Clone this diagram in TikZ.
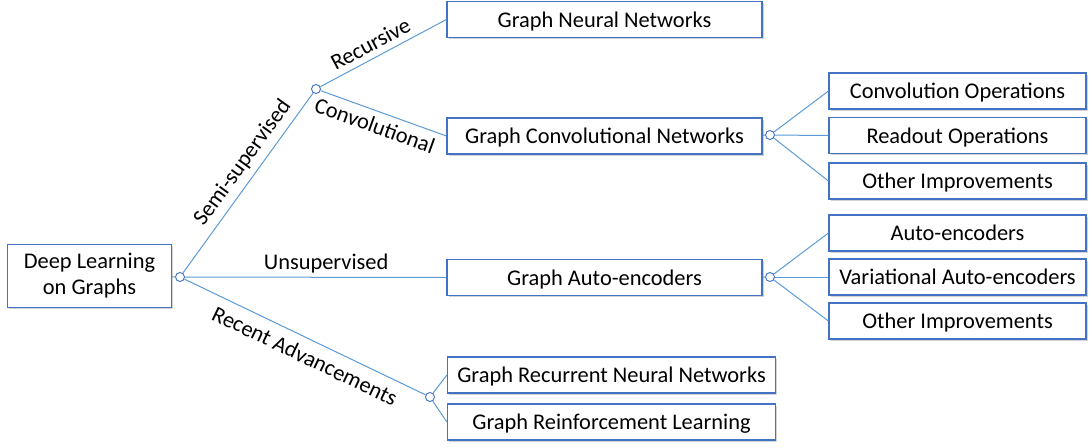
\documentclass[tikz,border=0pt]{standalone}
\usepackage{fontspec}
\setmainfont{Carlito}
\usetikzlibrary{shadows}

\definecolor{boxblue}{RGB}{68,114,196}
\definecolor{lineblue}{RGB}{91,155,213}

\begin{document}
\begin{tikzpicture}[x=0.75pt, y=-0.75pt,
        box/.style={draw=boxblue, line width=0.9pt, fill=white, minimum height=27pt, inner sep=0pt,
            font=\fontsize{16.8}{19.5}\selectfont,
            drop shadow={shadow xshift=1.2pt, shadow yshift=-1.2pt, opacity=0.35, fill=gray}},
        leaf/.style={box, text depth=0pt},
        dot/.style={circle, draw=boxblue, line width=0.7pt, fill=white, minimum size=6.75pt, inner sep=0pt},
        link/.style={draw=lineblue, line width=0.75pt},
        lbl/.style={font=\fontsize{16.8}{19.5}\selectfont, sloped, inner sep=4.5pt}]
        % Canvas
        \useasboundingbox (0,0) rectangle (1090,447);
        
        % Root
        \node[box, minimum width=123pt, minimum height=47.25pt, align=center] (root) at (89.5,276) {Deep Learning\\on Graphs};
        
        % Branch points
        \node[dot] (rootdot) at (180,277) {};
        \node[dot] (semidot) at (316,89) {};
        \node[dot] (gcndot) at (770,135) {};
        \node[dot] (gaedot) at (770,277) {};
        \node[dot] (recentdot) at (430,397) {};
        
        % Main categories
        \node[leaf, minimum width=236.25pt] (gnn) at (604.5,19.5) {Graph Neural Networks};
        \node[leaf, minimum width=236.25pt] (gcn) at (604.5,136) {Graph Convolutional Networks};
        \node[leaf, minimum width=236.25pt] (gae) at (604.5,277.5) {Graph Auto-encoders};
        \node[leaf, minimum width=246pt] (grnn) at (611.5,375) {Graph Recurrent Neural Networks};
        \node[leaf, minimum width=246pt] (grl) at (611.5,422) {Graph Reinforcement Learning};
        
        % GCN details
        \node[leaf, minimum width=192.75pt] (convops) at (957.5,91) {Convolution Operations};
        \node[leaf, minimum width=192.75pt] (readout) at (957.5,135.5) {Readout Operations};
        \node[leaf, minimum width=192.75pt] (gcnother) at (957.5,181) {Other Improvements};
        
        % GAE details
        \node[leaf, minimum width=192.75pt] (ae) at (957.5,233) {Auto-encoders};
        \node[leaf, minimum width=192.75pt] (vae) at (957.5,277) {Variational Auto-encoders};
        \node[leaf, minimum width=192.75pt] (gaeother) at (957.5,321) {Other Improvements};
        
        % Connectors
        \draw[link] (root) -- (rootdot);
        \draw[link] (rootdot) -- node[lbl, above, pos=0.56] {Semi-supervised} (semidot);
        \draw[link] (rootdot) -- node[lbl, above, pos=0.54, inner sep=3pt] {Unsupervised} (gae.west);
        \draw[link] (rootdot) -- node[lbl, below, pos=0.53, inner sep=6.5pt] {Recent Advancements} (recentdot);
        \draw[link] (semidot) -- node[lbl, above, pos=0.45] {Recursive} (gnn.west);
        \draw[link] (semidot) -- node[lbl, below, pos=0.47] {Convolutional} (gcn.west);
        \draw[link] (recentdot) -- (grnn.west);
        \draw[link] (recentdot) -- (grl.west);
        \draw[link] (gcn) -- (gcndot);
        \draw[link] (gae) -- (gaedot);
        \foreach \item in {convops, readout, gcnother}
            \draw[link] (gcndot) -- (\item.west);
        \foreach \item in {ae, vae, gaeother}
            \draw[link] (gaedot) -- (\item.west);
\end{tikzpicture}
\end{document}
